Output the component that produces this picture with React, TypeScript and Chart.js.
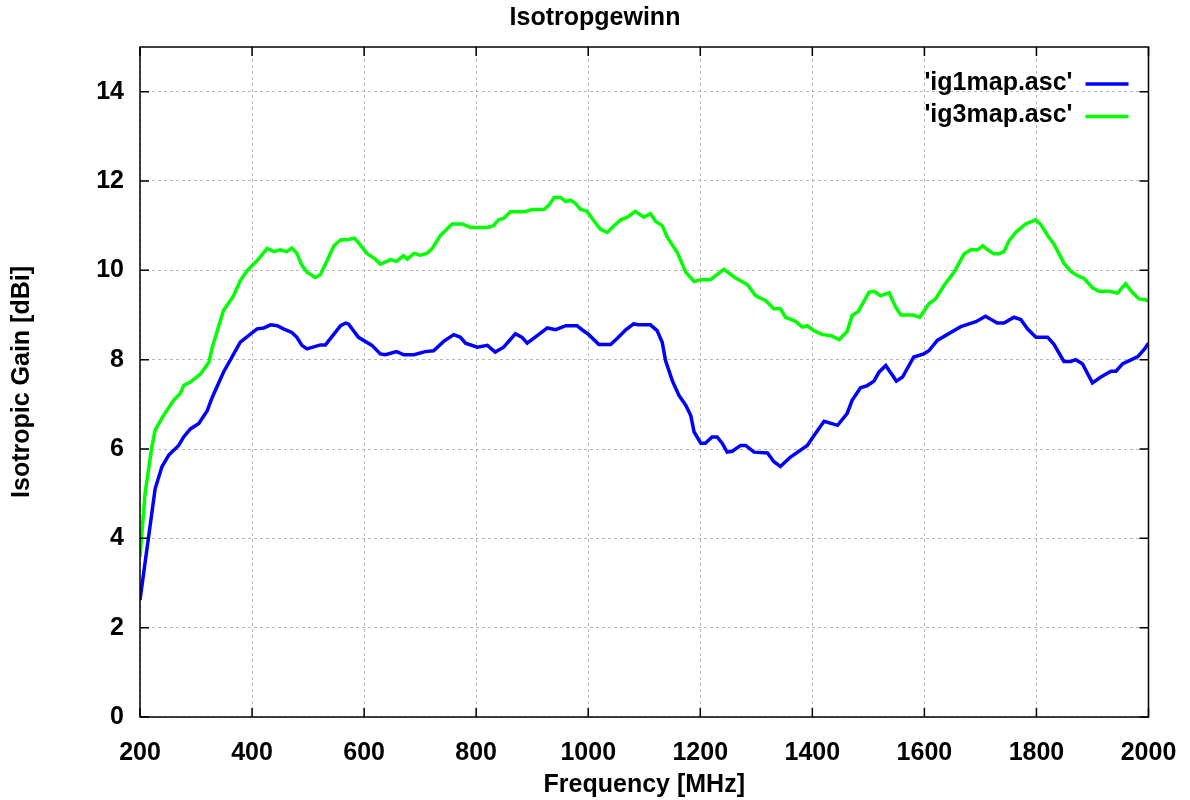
import React, { useEffect, useRef } from "react";
import { Chart, registerables } from "chart.js";

Chart.register(...registerables);

const chartTitle = "Isotropgewinn";
const xTitle = "Frequency [MHz]";
const yTitle = "Isotropic Gain [dBi]";
const seriesLabels = ["'ig1map.asc'", "'ig3map.asc'"];
const seriesColors = ["#0000ff", "#00ff00"];

const ig1Freq = [
  200, 227, 239, 251, 269, 278, 290, 305, 320, 329, 349, 379, 409, 421, 433, 445, 456, 471, 480, 489,
  498, 522, 531, 558, 567, 572, 590, 614, 629, 638, 658, 671, 689, 709, 724, 742, 760, 772, 781, 802,
  820, 834, 849, 870, 882, 891, 909, 927, 942, 960, 980, 989, 1001, 1019, 1040, 1052, 1067, 1081, 1090, 1111,
  1123, 1132, 1138, 1150, 1162, 1174, 1183, 1189, 1201, 1209, 1221, 1230, 1239, 1248, 1257, 1272, 1281, 1296, 1320, 1331,
  1343, 1361, 1391, 1403, 1421, 1445, 1462, 1471, 1486, 1498, 1510, 1519, 1531, 1550, 1561, 1581, 1599, 1608, 1623, 1647,
  1665, 1692, 1709, 1730, 1742, 1760, 1772, 1784, 1799, 1820, 1831, 1849, 1861, 1870, 1882, 1900, 1915, 1933, 1942, 1954,
  1966, 1981, 1993, 2000,
];
const ig1Gain = [
  2.62, 5.11, 5.6, 5.86, 6.08, 6.27, 6.45, 6.57, 6.86, 7.16, 7.72, 8.39, 8.69, 8.71, 8.78, 8.76, 8.69, 8.61, 8.5, 8.32,
  8.24, 8.33, 8.33, 8.76, 8.82, 8.8, 8.5, 8.32, 8.13, 8.11, 8.18, 8.11, 8.11, 8.18, 8.2, 8.41, 8.56, 8.5, 8.37, 8.28,
  8.32, 8.17, 8.28, 8.58, 8.5, 8.37, 8.54, 8.71, 8.67, 8.76, 8.76, 8.67, 8.56, 8.34, 8.34, 8.48, 8.67, 8.8, 8.78, 8.78,
  8.65, 8.39, 7.98, 7.53, 7.2, 6.98, 6.75, 6.38, 6.13, 6.13, 6.27, 6.27, 6.13, 5.93, 5.95, 6.08, 6.08, 5.93, 5.91, 5.72,
  5.61, 5.82, 6.08, 6.3, 6.62, 6.53, 6.79, 7.09, 7.37, 7.42, 7.52, 7.72, 7.87, 7.52, 7.61, 8.06, 8.13, 8.2, 8.43, 8.61,
  8.74, 8.85, 8.97, 8.82, 8.82, 8.95, 8.9, 8.69, 8.5, 8.5, 8.35, 7.96, 7.96, 8.0, 7.91, 7.48, 7.61, 7.74, 7.74, 7.91,
  7.98, 8.07, 8.24, 8.37,
];

const ig3Freq = [
  200, 209, 221, 227, 242, 260, 272, 278, 290, 308, 323, 329, 340, 349, 367, 379, 391, 409, 427, 439,
  450, 462, 471, 480, 489, 498, 513, 522, 534, 546, 558, 572, 583, 593, 605, 620, 629, 647, 658, 670,
  677, 689, 700, 712, 721, 736, 757, 775, 790, 820, 831, 840, 849, 861, 885, 900, 921, 930, 939, 951,
  960, 968, 977, 986, 998, 1010, 1022, 1034, 1046, 1058, 1070, 1084, 1099, 1111, 1120, 1132, 1141, 1159, 1174, 1189,
  1201, 1218, 1242, 1263, 1284, 1299, 1317, 1331, 1343, 1352, 1370, 1382, 1391, 1403, 1418, 1433, 1448, 1462, 1471, 1482,
  1501, 1510, 1522, 1537, 1549, 1558, 1579, 1592, 1608, 1620, 1635, 1653, 1671, 1683, 1695, 1704, 1713, 1724, 1733, 1742,
  1751, 1763, 1781, 1799, 1808, 1820, 1831, 1849, 1861, 1873, 1885, 1900, 1912, 1930, 1945, 1959, 1971, 1983, 1995, 2000,
];
const ig3Gain = [
  3.58, 5.0, 6.04, 6.42, 6.75, 7.09, 7.25, 7.42, 7.5, 7.68, 7.94, 8.28, 8.73, 9.1, 9.43, 9.77, 9.99, 10.22, 10.49, 10.42,
  10.46, 10.42, 10.5, 10.38, 10.11, 9.96, 9.84, 9.9, 10.22, 10.55, 10.68, 10.69, 10.72, 10.57, 10.38, 10.25, 10.14, 10.24, 10.2, 10.33,
  10.25, 10.38, 10.34, 10.38, 10.48, 10.78, 11.04, 11.04, 10.96, 10.96, 11.0, 11.13, 11.16, 11.31, 11.31, 11.36, 11.36, 11.46, 11.63, 11.63,
  11.54, 11.57, 11.5, 11.37, 11.32, 11.11, 10.92, 10.85, 11.0, 11.13, 11.19, 11.32, 11.19, 11.27, 11.1, 11.0, 10.74, 10.4, 9.96, 9.75,
  9.79, 9.79, 10.02, 9.83, 9.68, 9.43, 9.32, 9.14, 9.14, 8.95, 8.86, 8.73, 8.76, 8.65, 8.56, 8.54, 8.45, 8.63, 8.99, 9.08,
  9.51, 9.53, 9.43, 9.5, 9.17, 9.0, 9.0, 8.95, 9.25, 9.36, 9.66, 9.96, 10.37, 10.46, 10.46, 10.55, 10.46, 10.37, 10.37, 10.42,
  10.66, 10.85, 11.04, 11.13, 11.02, 10.78, 10.59, 10.16, 9.98, 9.88, 9.82, 9.61, 9.53, 9.53, 9.49, 9.7, 9.51, 9.36, 9.34, 9.31,
];

const xMin = 200;
const xMax = 2000;
const xStep = 200;
const yMin = 0;
const yMax = 15;
const yStep = 2;

const FONT_FAMILY = "'Liberation Sans', Arial, Helvetica, sans-serif";
const FONT_SIZE = 25;

const framePlugin = {
  id: "gnuFrame",
  afterDatasetsDraw(chart: any) {
    const { ctx, chartArea } = chart;
    const { left, right, top, bottom } = chartArea;
    const xs = chart.scales.x;
    const ys = chart.scales.y;
    const tl = 9;
    ctx.save();
    ctx.strokeStyle = "#000";
    ctx.lineWidth = 1.5;
    ctx.setLineDash([]);
    ctx.strokeRect(left, top, right - left, bottom - top);
    ctx.beginPath();
    xs.ticks.forEach((t: any) => {
      const px = xs.getPixelForValue(t.value);
      ctx.moveTo(px, bottom);
      ctx.lineTo(px, bottom - tl);
      ctx.moveTo(px, top);
      ctx.lineTo(px, top + tl);
    });
    ys.ticks.forEach((t: any) => {
      const py = ys.getPixelForValue(t.value);
      ctx.moveTo(left, py);
      ctx.lineTo(left + tl, py);
      ctx.moveTo(right, py);
      ctx.lineTo(right - tl, py);
    });
    ctx.stroke();
    ctx.restore();
  },
};

const legendPlugin = {
  id: "gnuLegend",
  afterDraw(chart: any) {
    const { ctx, chartArea } = chart;
    const textRight = chartArea.right - 76;
    const lineStart = chartArea.right - 63;
    const lineEnd = chartArea.right - 20;
    const firstRow = chartArea.top + 37;
    const rowGap = 32.5;
    ctx.save();
    ctx.font = `bold ${FONT_SIZE}px ${FONT_FAMILY}`;
    ctx.textAlign = "right";
    ctx.textBaseline = "middle";
    chart.data.datasets.forEach((ds: any, i: number) => {
      const y = firstRow + i * rowGap;
      ctx.fillStyle = "#000";
      ctx.fillText(ds.label, textRight, y - 1);
      ctx.strokeStyle = ds.borderColor;
      ctx.lineWidth = 3.5;
      ctx.beginPath();
      ctx.moveTo(lineStart, y);
      ctx.lineTo(lineEnd, y);
      ctx.stroke();
    });
    ctx.restore();
  },
};

export default function App() {
  const canvasRef = useRef<HTMLCanvasElement | null>(null);

  useEffect(() => {
    if (!canvasRef.current) return;
    const font = { family: FONT_FAMILY, size: FONT_SIZE, weight: "bold" as const };
    const chart = new Chart(canvasRef.current, {
      type: "line",
      data: {
        datasets: [
          {
            label: seriesLabels[0],
            data: ig1Freq.map((f, i) => ({ x: f, y: ig1Gain[i] })),
            borderColor: seriesColors[0],
            backgroundColor: seriesColors[0],
            borderWidth: 3.5,
            pointRadius: 0,
            tension: 0,
            fill: false,
          },
          {
            label: seriesLabels[1],
            data: ig3Freq.map((f, i) => ({ x: f, y: ig3Gain[i] })),
            borderColor: seriesColors[1],
            backgroundColor: seriesColors[1],
            borderWidth: 3.5,
            pointRadius: 0,
            tension: 0,
            fill: false,
          },
        ],
      },
      options: {
        responsive: false,
        animation: false,
        devicePixelRatio: 1,
        layout: { padding: 0 },
        plugins: {
          legend: { display: false },
          tooltip: { enabled: false },
          title: {
            display: true,
            text: chartTitle,
            color: "#000",
            font,
            padding: { top: 3, bottom: 14 },
          },
        },
        scales: {
          x: {
            type: "linear",
            min: xMin,
            max: xMax,
            afterFit: (scale: any) => {
              scale.height = 83;
              scale.paddingLeft = 0;
              scale.paddingRight = 41.5;
            },
            ticks: {
              stepSize: xStep,
              color: "#000",
              font,
              padding: 21,
              maxRotation: 0,
              autoSkip: false,
              callback: (v: any) => String(v),
            },
            grid: {
              color: "#b8b8b8",
              lineWidth: 1,
              drawTicks: false,
            },
            border: { display: false, dash: [3, 3] },
            title: {
              display: true,
              text: xTitle,
              color: "#000",
              font,
              padding: { top: 0, bottom: 0 },
            },
          },
          y: {
            type: "linear",
            min: yMin,
            max: yMax,
            afterFit: (scale: any) => {
              scale.width = 140;
              scale.paddingTop = 0;
              scale.paddingBottom = 0;
            },
            ticks: {
              stepSize: yStep,
              includeBounds: false,
              color: "#000",
              font,
              padding: 16,
              callback: (v: any) => String(v),
            },
            grid: {
              color: "#b8b8b8",
              lineWidth: 1,
              drawTicks: false,
            },
            border: { display: false, dash: [3, 3] },
            title: {
              display: true,
              text: yTitle,
              color: "#000",
              font,
              padding: { top: 7.5, bottom: 0 },
            },
          },
        },
      },
      plugins: [framePlugin, legendPlugin],
    });
    return () => chart.destroy();
  }, []);

  return (
    <div style={{ position: "absolute", left: 0, top: 0, width: 1190, height: 800, background: "#fff" }}>
      <canvas ref={canvasRef} width={1190} height={800} style={{ width: 1190, height: 800, display: "block" }} />
    </div>
  );
}
